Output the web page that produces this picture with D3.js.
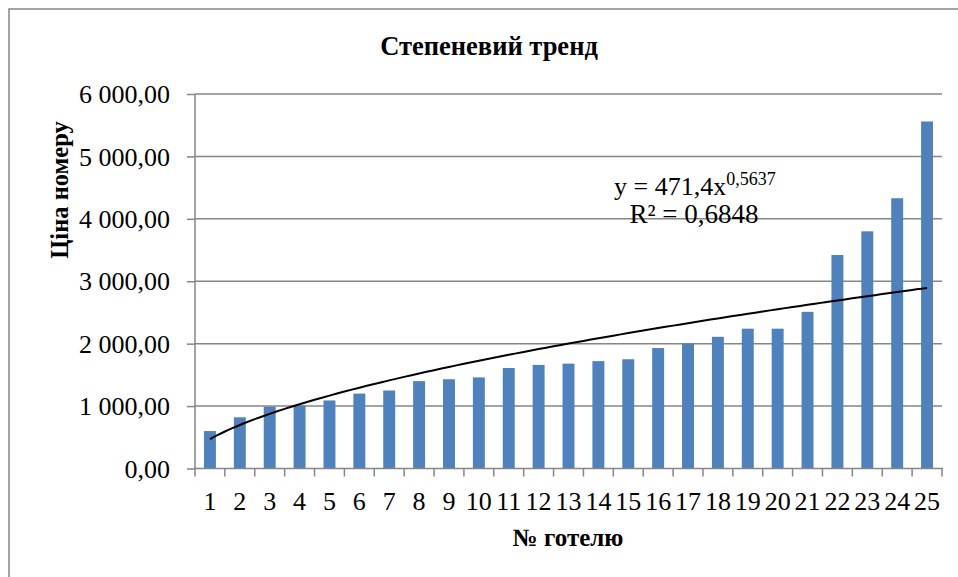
<!DOCTYPE html>
<html>
<head>
<meta charset="utf-8">
<script src="https://cdn.jsdelivr.net/npm/d3@7"></script>
<style>
  body { margin: 0; background: #fff; }
  svg text { font-family: "Liberation Serif", "Times New Roman", serif; fill: #000; }
</style>
</head>
<body>
<div id="chart"></div>
<script>
"use strict";

// hotel numbers and room prices
var hotels = d3.range(1, 26).map(String);
var prices = [600, 820, 990, 1010, 1090, 1200, 1250, 1400, 1430, 1460,
              1610, 1660, 1680, 1720, 1750, 1930, 2000, 2110, 2240, 2240,
              2510, 3420, 3800, 4330, 5560];
var yTicks = [0, 1000, 2000, 3000, 4000, 5000, 6000];

// power trend from the chart: y = 471,4 x^0,5637
var trendA = 471.4, trendB = 0.5637;

var width = 958, height = 577;
var plot = {left: 195, right: 942, top: 94, bottom: 468.5};

var svg = d3.select("#chart").append("svg")
    .attr("width", width)
    .attr("height", height);

// chart area border
svg.append("rect")
    .attr("x", 9).attr("y", 9)
    .attr("width", 965).attr("height", 600)
    .style("fill", "none")
    .style("stroke", "#868686")
    .style("stroke-width", 1.5);

var x = d3.scaleBand()
    .domain(hotels)
    .range([plot.left, plot.right])
    .padding(0);

var y = d3.scaleLinear()
    .domain([0, 6000])
    .range([plot.bottom, plot.top]);

// gridlines
svg.append("g")
    .selectAll("line")
    .data(yTicks.slice(1))
    .enter()
    .append("line")
    .attr("x1", plot.left).attr("x2", plot.right)
    .attr("y1", function(d){ return y(d); })
    .attr("y2", function(d){ return y(d); })
    .style("stroke", "#868686")
    .style("stroke-width", 1.5);

// y axis
var yAxis = d3.axisLeft(y)
    .tickValues(yTicks)
    .tickSize(8)
    .tickPadding(17)
    .tickFormat(function(d){
        return d3.format(",.2f")(d).replace(/,/g, " ").replace(".", ",");
    });

var gy = svg.append("g")
    .attr("transform", "translate(" + plot.left + ",0)")
    .call(yAxis);
gy.select(".domain").style("stroke", "#868686").style("stroke-width", 1.5)
    .attr("d", "M0," + plot.top + "V" + plot.bottom);
gy.selectAll(".tick line").style("stroke", "#868686").style("stroke-width", 1.5);
gy.selectAll(".tick text")
    .style("font-size", "26px")
    .attr("dy", "0.33em");

// bars
var barW = x.bandwidth() * 0.4;
svg.append("g")
    .selectAll("rect")
    .data(prices)
    .enter()
    .append("rect")
    .attr("x", function(d, i){ return x(hotels[i]) + (x.bandwidth() - barW) / 2; })
    .attr("y", function(d){ return y(d); })
    .attr("width", barW)
    .attr("height", function(d){ return y(0) - y(d); })
    .style("fill", "#4F81BD");

// x axis
var xAxis = d3.axisBottom(x)
    .tickSize(0)
    .tickPadding(40);

var gx = svg.append("g")
    .attr("transform", "translate(0," + plot.bottom + ")")
    .call(xAxis);
gx.select(".domain").remove();
gx.selectAll(".tick text")
    .style("font-size", "26px")
    .attr("dy", 0)
    .attr("y", 41);

svg.append("line")
    .attr("x1", plot.left - 1).attr("x2", plot.right + 1)
    .attr("y1", plot.bottom).attr("y2", plot.bottom)
    .style("stroke", "#868686")
    .style("stroke-width", 1.5);

svg.append("g")
    .selectAll("line")
    .data(hotels.concat(["end"]))
    .enter()
    .append("line")
    .attr("x1", function(d, i){ return i < hotels.length ? x(d) : plot.right; })
    .attr("x2", function(d, i){ return i < hotels.length ? x(d) : plot.right; })
    .attr("y1", plot.bottom)
    .attr("y2", plot.bottom + 8)
    .style("stroke", "#868686")
    .style("stroke-width", 1.5);

// trend line
var trendX = d3.scaleLinear()
    .domain([1, hotels.length])
    .range([x(hotels[0]) + x.bandwidth() / 2, x(hotels[hotels.length - 1]) + x.bandwidth() / 2]);

var trendPts = d3.range(1, hotels.length + 0.001, 0.25);
var line = d3.line()
    .x(function(d){ return trendX(d); })
    .y(function(d){ return y(trendA * Math.pow(d, trendB)); })
    .curve(d3.curveMonotoneX);

svg.append("path")
    .datum(trendPts)
    .attr("d", line)
    .style("fill", "none")
    .style("stroke", "#000")
    .style("stroke-width", 2);

// trend equation
var eq = svg.append("text")
    .attr("x", 614)
    .attr("y", 195)
    .style("font-size", "26px");
eq.append("tspan").text("y = 471,4x");
eq.append("tspan").text("0,5637")
    .attr("dy", -10)
    .style("font-size", "18px");

svg.append("text")
    .attr("x", 694)
    .attr("y", 223)
    .attr("text-anchor", "middle")
    .style("font-size", "27px")
    .text("R² = 0,6848");

// titles
svg.append("text")
    .attr("x", 489)
    .attr("y", 55)
    .attr("text-anchor", "middle")
    .style("font-size", "26.5px")
    .style("font-weight", "bold")
    .text("Степеневий тренд");

svg.append("text")
    .attr("x", 568)
    .attr("y", 546)
    .attr("text-anchor", "middle")
    .style("font-size", "25px")
    .style("font-weight", "bold")
    .text("№ готелю");

svg.append("text")
    .attr("transform", "translate(68,190) rotate(-90)")
    .attr("text-anchor", "middle")
    .style("font-size", "24.5px")
    .style("font-weight", "bold")
    .text("Ціна номеру");
</script>
</body>
</html>
